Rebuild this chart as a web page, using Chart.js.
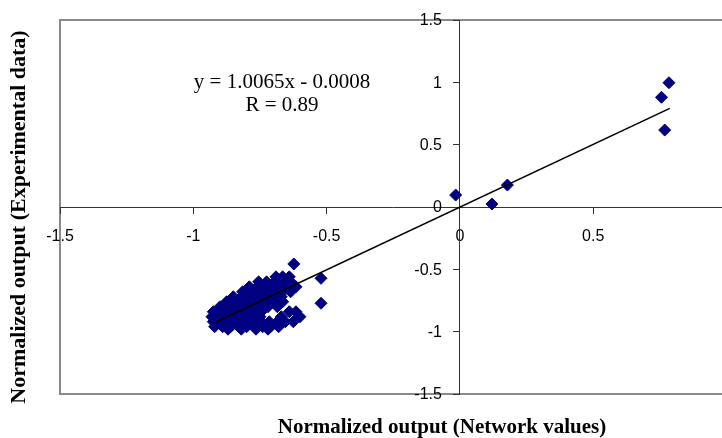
<!DOCTYPE html>
<html>
<head>
<meta charset="utf-8">
<script src="https://cdn.jsdelivr.net/npm/chart.js@4/dist/chart.umd.min.js"></script>
<style>
  html, body { margin: 0; padding: 0; overflow: hidden; background: #fff; }
  #wrap { width: 722px; height: 438px; overflow: hidden; position: relative; }
  #chart { display: block; }
</style>
</head>
<body>
<div id="wrap"><canvas id="chart" width="745" height="438"></canvas></div>
<script>
const networkValues = [
    // main cluster, row by row
    -0.69, -0.665, -0.64,
    -0.755, -0.725, -0.695, -0.665, -0.635,
    -0.79, -0.76, -0.73, -0.70, -0.67, -0.64, -0.615,
    -0.815, -0.785, -0.755, -0.725, -0.695, -0.665, -0.635,
    -0.85, -0.82, -0.79, -0.76, -0.73, -0.70, -0.67,
    -0.875, -0.845, -0.815, -0.785, -0.755, -0.725, -0.695, -0.665,
    -0.90, -0.87, -0.84, -0.81, -0.78, -0.75, -0.72, -0.685,
    -0.925, -0.895, -0.865, -0.835, -0.805, -0.775, -0.745, -0.64, -0.615,
    -0.93, -0.90, -0.87, -0.84, -0.81, -0.78, -0.75, -0.67, -0.60,
    -0.925, -0.895, -0.865, -0.835, -0.805, -0.775, -0.745, -0.715, -0.685, -0.655, -0.625,
    -0.92, -0.89, -0.86, -0.83, -0.80, -0.77, -0.74, -0.71, -0.68,
    -0.87, -0.82, -0.765, -0.72,
    // outliers
    -0.623, -0.521, -0.521, -0.016, 0.12, 0.178, 0.756, 0.784, 0.768
];
const experimentalValues = [
    -0.56, -0.56, -0.56,
    -0.60, -0.60, -0.60, -0.60, -0.60,
    -0.64, -0.64, -0.64, -0.64, -0.64, -0.64, -0.64,
    -0.68, -0.68, -0.68, -0.68, -0.68, -0.68, -0.68,
    -0.72, -0.72, -0.72, -0.72, -0.72, -0.72, -0.72,
    -0.76, -0.76, -0.76, -0.76, -0.76, -0.76, -0.76, -0.76,
    -0.80, -0.80, -0.80, -0.80, -0.80, -0.80, -0.80, -0.80,
    -0.84, -0.84, -0.84, -0.84, -0.84, -0.84, -0.84, -0.84, -0.84,
    -0.88, -0.88, -0.88, -0.88, -0.88, -0.88, -0.88, -0.88, -0.88,
    -0.92, -0.92, -0.92, -0.92, -0.92, -0.92, -0.92, -0.92, -0.92, -0.92, -0.92,
    -0.96, -0.96, -0.96, -0.96, -0.96, -0.96, -0.96, -0.96, -0.96,
    -0.98, -0.98, -0.98, -0.98,
    -0.457, -0.572, -0.772, 0.096, 0.024, 0.176, 0.88, 0.997, 0.617
];

// linear trend line end points (y = 1.0065x - 0.0008)
const trendX = [-0.92, 0.787];
const trendY = [-0.927, 0.791];

const xTicks = [-1.5, -1, -0.5, 0, 0.5, 1];
const yTicks = [-1.5, -1, -0.5, 0, 0.5, 1, 1.5];

const equationLines = ['y = 1.0065x - 0.0008', 'R = 0.89'];
const xTitle = 'Normalized output (Network values)';
const yTitle = 'Normalized output (Experimental data)';

const points = networkValues.map((x, i) => ({ x: x, y: experimentalValues[i] }));
const trend = trendX.map((x, i) => ({ x: x, y: trendY[i] }));

const sans = "Arial, 'Liberation Sans', sans-serif";
const serif = "'Times New Roman', 'Liberation Serif', serif";
const tickFont = { family: sans, size: 16 };

// grey frame around the plot area
const framePlugin = {
    id: 'frame',
    beforeDraw(chart) {
        const { ctx, chartArea: a } = chart;
        ctx.save();
        ctx.strokeStyle = '#8a8a8a';
        ctx.lineWidth = 2;
        ctx.strokeRect(a.left, a.top, a.right - a.left, a.bottom - a.top);
        ctx.restore();
    }
};

// y tick labels sit a bit left of the crossing axis
const yLabelPlugin = {
    id: 'yLabels',
    afterDraw(chart) {
        const { ctx, scales: { x, y } } = chart;
        const axisX = x.getPixelForValue(0);
        ctx.save();
        ctx.fillStyle = '#000';
        ctx.font = '16px ' + sans;
        ctx.textAlign = 'right';
        ctx.textBaseline = 'middle';
        y.ticks.forEach(t => {
            ctx.fillText(String(t.value), axisX - 18, y.getPixelForValue(t.value) + 1);
        });
        ctx.restore();
    }
};

// axis titles and the regression text
const textPlugin = {
    id: 'texts',
    afterDraw(chart) {
        const ctx = chart.ctx;
        ctx.save();
        ctx.fillStyle = '#000';
        ctx.textAlign = 'center';
        ctx.textBaseline = 'middle';

        ctx.font = '21px ' + serif;
        ctx.fillText(equationLines[0], 282, 82);
        ctx.fillText(equationLines[1], 282, 105);

        ctx.font = 'bold 21px ' + serif;
        ctx.fillText(xTitle, 442, 428);

        ctx.font = 'bold 22px ' + serif;
        ctx.translate(19, 217);
        ctx.rotate(-Math.PI / 2);
        ctx.fillText(yTitle, 0, 0);
        ctx.restore();
    }
};

const ctx = document.getElementById('chart').getContext('2d');
new Chart(ctx, {
    type: 'scatter',
    data: {
        datasets: [{
            label: 'Trend',
            data: trend,
            showLine: true,
            borderColor: '#000',
            borderWidth: 1.6,
            pointRadius: 0,
            order: 0
        }, {
            label: 'Data',
            data: points,
            pointStyle: 'rectRot',
            pointRadius: 6,
            backgroundColor: '#000080',
            borderColor: '#000080',
            borderWidth: 1,
            order: 1
        }]
    },
    options: {
        responsive: false,
        animation: false,
        devicePixelRatio: 1,
        // the canvas is wider than the window: x = 1 falls just past the right edge
        layout: { padding: { left: 60, top: 20, right: 9, bottom: 44 } },
        plugins: {
            legend: { display: false },
            tooltip: { enabled: false }
        },
        scales: {
            x: {
                type: 'linear',
                min: -1.5,
                max: 1,
                position: { y: 0 },
                afterBuildTicks: axis => { axis.ticks = xTicks.map(v => ({ value: v })); },
                grid: { drawOnChartArea: false, tickLength: 6, color: '#333' },
                border: { color: '#333', width: 1 },
                ticks: {
                    font: tickFont, color: '#000', padding: 14, autoSkip: false, maxRotation: 0,
                    callback: v => String(v)
                }
            },
            y: {
                type: 'linear',
                min: -1.5,
                max: 1.5,
                position: { x: 0 },
                afterBuildTicks: axis => { axis.ticks = yTicks.map(v => ({ value: v })); },
                grid: { drawOnChartArea: false, tickLength: 6, color: '#333' },
                border: { color: '#333', width: 1 },
                ticks: { display: false }
            }
        }
    },
    plugins: [framePlugin, yLabelPlugin, textPlugin]
});
</script>
</body>
</html>
